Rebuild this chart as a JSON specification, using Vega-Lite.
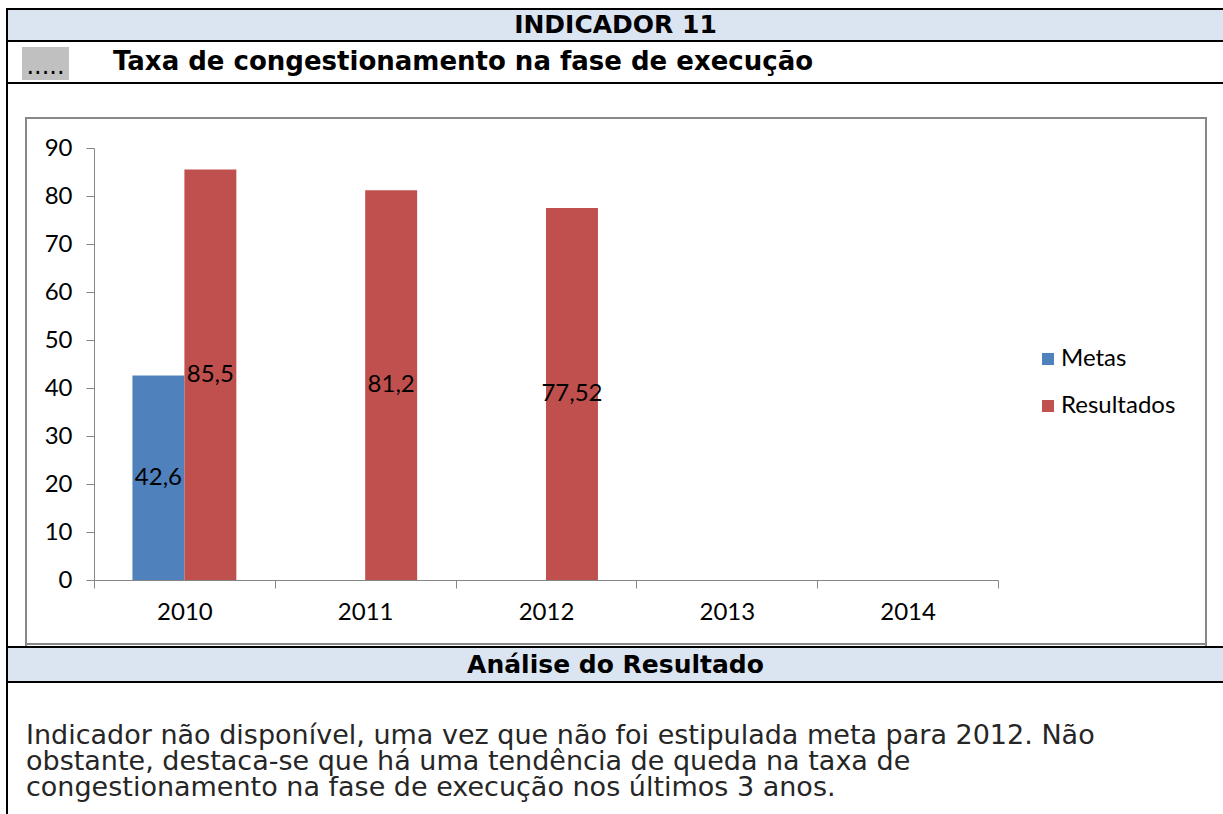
{
"$schema": "https://vega.github.io/schema/vega-lite/v6.json",
"padding": {"left": 6, "top": 8, "right": 0, "bottom": 0},
"background": "#ffffff",
"config": {
  "view": {"stroke": null},
  "concat": {"spacing": 0},
  "locale": {"number": {"decimal": ",", "thousands": ".", "grouping": [3], "currency": ["R$", ""]}},
  "axis": {"domainColor": "#868686", "tickColor": "#868686", "labelFont": "Lato", "labelFontSize": 24, "labelColor": "#000000", "grid": false, "domainWidth": 1, "tickWidth": 1, "title": null}
},
"hconcat": [
  {"width": 2, "height": 806, "data": {"values": []}, "mark": "point", "view": {"fill": "#000000"}},
  {"spacing": 0, "vconcat": [
    {"width": 1215, "height": 2, "data": {"values": []}, "mark": "point", "view": {"fill": "#000000"}},
    {"width": 1215, "height": 30, "view": {"fill": "#dbe5f1"}, "data": {"values": [{"t": "INDICADOR 11"}]}, "mark": {"type": "text", "font": "DejaVu Sans", "fontSize": 25, "fontWeight": "bold", "color": "#000000"}, "encoding": {"text": {"field": "t", "type": "nominal"}}},
    {"width": 1215, "height": 2, "data": {"values": []}, "mark": "point", "view": {"fill": "#000000"}},
    {"spacing": 0, "hconcat": [
      {"width": 14, "height": 40, "data": {"values": []}, "mark": "point"},
      {"spacing": 0, "vconcat": [
        {"width": 47, "height": 5, "data": {"values": []}, "mark": "point"},
        {"width": 47, "height": 33, "view": {"fill": "#c0c0c0"}, "data": {"values": [{"t": "....."}]}, "mark": {"type": "text", "font": "DejaVu Sans", "fontSize": 24, "color": "#000000", "dy": 3}, "encoding": {"text": {"field": "t", "type": "nominal"}}}
      ]},
      {"width": 43, "height": 40, "data": {"values": []}, "mark": "point"},
      {"width": 700, "height": 40, "data": {"values": [{"t": "Taxa de congestionamento na fase de execução"}]}, "mark": {"type": "text", "font": "DejaVu Sans", "fontSize": 26, "fontWeight": "bold", "color": "#000000"}, "encoding": {"text": {"field": "t", "type": "nominal"}}}
    ]},
    {"width": 1215, "height": 2, "data": {"values": []}, "mark": "point", "view": {"fill": "#000000"}},
    {"spacing": 0, "vconcat": [
      {"width": 1215, "height": 33, "data": {"values": []}, "mark": "point"},
      {"spacing": 0, "hconcat": [
        {"width": 17, "height": 1, "data": {"values": []}, "mark": "point"},
        {"spacing": 0, "hconcat": [
          {"width": 2, "height": 529, "data": {"values": []}, "mark": "point", "view": {"fill": "#888888"}},
          {"spacing": 0, "vconcat": [
            {"width": 1178, "height": 2, "data": {"values": []}, "mark": "point", "view": {"fill": "#888888"}},
            {"width": 1, "height": 17, "data": {"values": []}, "mark": "point"},
            {"spacing": 0, "hconcat": [
              {"width": 17, "height": 1, "data": {"values": []}, "mark": "point"},
              {
                "width": 904, "height": 432,
                "data": {"values": [
                  {"ano": "2010", "serie": "Metas", "valor": 42.6},
                  {"ano": "2010", "serie": "Resultados", "valor": 85.5},
                  {"ano": "2011", "serie": "Resultados", "valor": 81.2},
                  {"ano": "2012", "serie": "Resultados", "valor": 77.52}
                ]},
                "encoding": {
                  "x": {"field": "ano", "type": "nominal", "scale": {"domain": ["2010", "2011", "2012", "2013", "2014"], "paddingInner": 0, "paddingOuter": 0}, "axis": {"title": null, "labelAngle": 0, "tickBand": "extent", "tickSize": 8, "labelPadding": 12}},
                  "xOffset": {"field": "serie", "type": "nominal", "scale": {"domain": ["Metas", "Resultados"], "paddingInner": 0, "paddingOuter": 0.74}}
                },
                "layer": [
                  {"mark": {"type": "bar"}, "encoding": {
                    "y": {"field": "valor", "type": "quantitative", "scale": {"domain": [0, 90], "nice": false}, "axis": {"title": null, "values": [0, 10, 20, 30, 40, 50, 60, 70, 80, 90], "tickSize": 8, "labelPadding": 14}},
                    "color": {"field": "serie", "type": "nominal", "scale": {"domain": ["Metas", "Resultados"], "range": ["#4f81bd", "#c0504d"]}, "legend": {"title": null, "orient": "none", "legendX": 1030, "legendY": 339, "symbolType": "square", "symbolSize": 144, "symbolStrokeWidth": 0, "labelFont": "Lato", "labelFontSize": 24, "labelColor": "#000000", "rowPadding": 23, "labelOffset": 1, "padding": 0}}
                  }},
                  {"mark": {"type": "text", "font": "Lato", "fontSize": 24, "color": "#000000", "baseline": "middle"}, "encoding": {
                    "y": {"field": "valor", "type": "quantitative", "scale": {"domain": [0, 180], "nice": false}, "axis": null},
                    "text": {"field": "valor", "type": "quantitative", "format": "~g"}
                  }}
                ],
                "resolve": {"scale": {"y": "independent"}}
              }
            ]},
            {"width": 1, "height": 19, "data": {"values": []}, "mark": "point"},
            {"width": 1178, "height": 2, "data": {"values": []}, "mark": "point", "view": {"fill": "#888888"}}
          ]},
          {"width": 2, "height": 529, "data": {"values": []}, "mark": "point", "view": {"fill": "#888888"}}
        ]}
      ]}
    ]},
    {"width": 1215, "height": 2, "data": {"values": []}, "mark": "point", "view": {"fill": "#000000"}},
    {"width": 1215, "height": 33, "view": {"fill": "#dbe5f1"}, "data": {"values": [{"t": "Análise do Resultado"}]}, "mark": {"type": "text", "font": "DejaVu Sans", "fontSize": 25, "fontWeight": "bold", "color": "#000000"}, "encoding": {"text": {"field": "t", "type": "nominal"}}},
    {"width": 1215, "height": 2, "data": {"values": []}, "mark": "point", "view": {"fill": "#000000"}},
    {"spacing": 0, "hconcat": [
      {"width": 17, "height": 131, "data": {"values": []}, "mark": "point"},
      {"width": 2, "height": 80, "data": {"values": [{"t": "Indicador não disponível, uma vez que não foi estipulada meta para 2012. Não\nobstante, destaca-se que há uma tendência de queda na taxa de\ncongestionamento na fase de execução nos últimos 3 anos."}]}, "mark": {"type": "text", "font": "DejaVu Sans", "fontSize": 27, "color": "#262626", "align": "left", "baseline": "top", "lineBreak": "\n", "lineHeight": 26}, "encoding": {"text": {"field": "t", "type": "nominal"}}}
    ]}
  ]}
]
}
